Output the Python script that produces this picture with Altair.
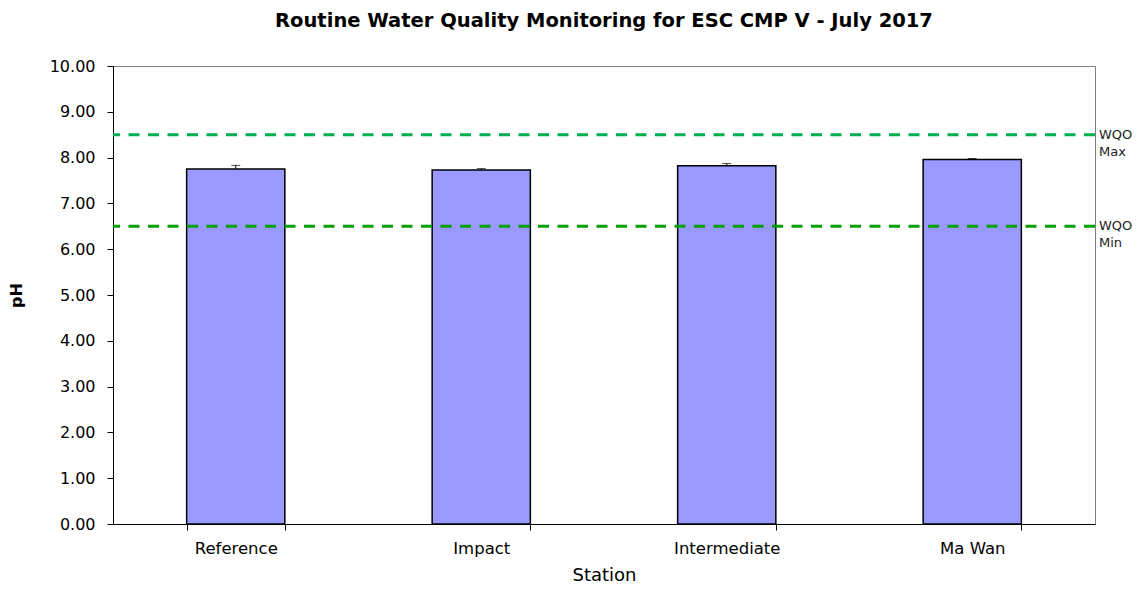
import altair as alt
import pandas as pd

stations = ["Reference", "Impact", "Intermediate", "Ma Wan"]
ph_mean = [7.75, 7.73, 7.82, 7.96]
ph_err = [0.08, 0.03, 0.05, 0.02]

wqo_labels = ["WQO\nMax", "WQO\nMin"]
wqo_values = [8.5, 6.5]
wqo_colors = ["#00B050", "#00A000"]

df = pd.DataFrame({"Station": stations, "pH": ph_mean, "err": ph_err})
df["top"] = df["pH"] + df["err"]
wqo = pd.DataFrame({"label": wqo_labels, "value": wqo_values, "color": wqo_colors})

W, H = 982, 458
FONT = "DejaVu Sans"

x_enc = alt.X("Station:N", sort=stations,
              scale=alt.Scale(paddingInner=0.6, paddingOuter=0.3),
              axis=alt.Axis(title="Station", labelAngle=0, tickBand="extent",
                            labelFontSize=16.5, titleFontSize=18, titleFontWeight="normal",
                            labelPadding=10, titlePadding=10, tickSize=6,
                            domainColor="black", tickColor="black", labelColor="black",
                            titleColor="black"))
y_scale = alt.Scale(domain=[0, 10], nice=False)

bars = alt.Chart(df).mark_bar(color="#9999FF", stroke="black", strokeWidth=1.5).encode(
    x=x_enc,
    y=alt.Y("pH:Q", scale=y_scale,
            axis=alt.Axis(title="pH", values=list(range(0, 11)), format=".2f", grid=False,
                          labelFontSize=16, titleFontSize=16, titleFontWeight="bold",
                          tickSize=6, labelPadding=12, titlePadding=25,
                          domainColor="black", tickColor="black", labelColor="black",
                          titleColor="black")),
)

stems = alt.Chart(df).mark_rule(color="black", strokeWidth=1).encode(
    x=alt.X("Station:N", sort=stations),
    y=alt.Y("pH:Q", scale=y_scale),
    y2="top:Q",
)
caps = alt.Chart(df).mark_tick(color="black", size=9, thickness=1, orient="horizontal").encode(
    x=alt.X("Station:N", sort=stations),
    y=alt.Y("top:Q", scale=y_scale),
)

lines = alt.Chart(wqo).mark_rule(strokeDash=[11, 8.5], strokeWidth=3).encode(
    y=alt.Y("value:Q", scale=y_scale),
    color=alt.Color("color:N", scale=None),
)
labels = alt.Chart(wqo).mark_text(align="left", baseline="middle", fontSize=13,
                                  font=FONT, lineBreak="\n", color="#222222",
                                  lineHeight=17).encode(
    x=alt.value(W + 4),
    y=alt.Y("value:Q", scale=y_scale),
    text="label:N",
)

chart = alt.layer(bars, stems, caps, lines, labels).properties(
    width=W, height=H,
    title=alt.TitleParams("Routine Water Quality Monitoring for ESC CMP V - July 2017",
                          fontSize=19.5, fontWeight="bold", font=FONT, color="black",
                          anchor="middle", offset=27),
    autosize=alt.AutoSizeParams(type="none"),
    padding={"left": 105, "top": 58, "right": 40, "bottom": 60},
).configure(font=FONT).configure_view(stroke="#808080", strokeWidth=1)

chart.save("out.html", embed_options={"renderer": "svg", "actions": False})
